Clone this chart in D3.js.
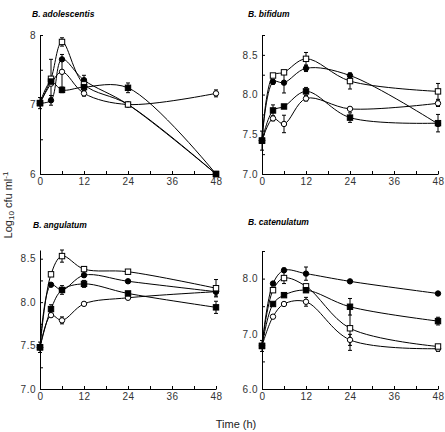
<!DOCTYPE html>
<html>
<head>
<meta charset="utf-8">
<script src="https://cdn.jsdelivr.net/npm/d3@7"></script>
<style>
  html, body { margin: 0; padding: 0; background: #fff; }
  svg { display: block; font-family: "Liberation Sans", Arial, sans-serif; }
</style>
</head>
<body>
<svg id="chart" width="445" height="432"></svg>
<script>
// ---------- DATA ----------
const times = [0, 3, 6, 12, 24, 48];
const markerTypes = ["openCircle", "filledCircle", "openSquare", "filledSquare"];
const panelTitles = ["B. adolescentis", "B. bifidum", "B. angulatum", "B. catenulatum"];
const xTickValues = [0, 6, 12, 18, 24, 30, 36, 42, 48];
const xTickLabels = [0, 12, 24, 36, 48];

// series order follows markerTypes
const adolescentisValues = [
  [7.02, 7.30, 7.47, 7.16, 7.00, 7.16],
  [7.02, 7.06, 7.65, 7.35, 7.00, 6.00],
  [7.02, 7.37, 7.90, 7.29, 7.00, 6.00],
  [7.02, 7.33, 7.21, 7.25, 7.24, 6.00]
];
const adolescentisErrors = [
  [0.08, 0, 0.25, 0.04, 0, 0.05],
  [0, 0.07, 0, 0.07, 0, 0],
  [0, 0.28, 0.06, 0, 0, 0],
  [0, 0, 0.04, 0, 0.07, 0]
];
const bifidumValues = [
  [7.42, 7.70, 7.63, 7.95, 7.82, 7.89],
  [7.42, 8.16, 8.15, 8.33, 8.24, 7.63],
  [7.42, 8.24, 8.28, 8.45, 8.17, 8.04],
  [7.42, 7.80, 7.85, 8.04, 7.71, 7.64]
];
const bifidumErrors = [
  [0.12, 0.03, 0.11, 0.03, 0, 0.04],
  [0, 0.03, 0.13, 0.04, 0.03, 0],
  [0, 0, 0, 0.08, 0.10, 0.10],
  [0, 0.07, 0, 0.05, 0.06, 0.11]
];
const angulatumValues = [
  [7.48, 7.85, 7.79, 7.98, 8.05, 8.12],
  [7.48, 8.20, 8.14, 8.31, 8.24, 8.12],
  [7.48, 8.32, 8.53, 8.38, 8.35, 8.16],
  [7.48, 7.92, 8.14, 8.21, 8.10, 7.94]
];
const angulatumErrors = [
  [0.06, 0, 0.04, 0, 0, 0],
  [0, 0, 0.05, 0, 0, 0.05],
  [0, 0, 0.07, 0.03, 0, 0.10],
  [0, 0.05, 0, 0.04, 0, 0.07]
];
const catenulatumValues = [
  [6.78, 7.31, 7.54, 7.58, 6.89, 6.73],
  [6.78, 7.91, 8.15, 8.09, 7.95, 7.73],
  [6.78, 7.79, 8.01, 7.86, 7.10, 6.77],
  [6.78, 7.54, 7.70, 7.79, 7.49, 7.23]
];
const catenulatumErrors = [
  [0.10, 0, 0, 0.08, 0.10, 0.05],
  [0, 0, 0.04, 0.12, 0, 0],
  [0, 0, 0.10, 0, 0.40, 0],
  [0, 0, 0, 0, 0.15, 0.07]
];

const yDomains = [[6, 8], [7, 8.75], [7, 8.6], [6, 8.5]];
const yTickValues = [
  [6, 6.5, 7, 7.5, 8],
  [7, 7.25, 7.5, 7.75, 8, 8.25, 8.5, 8.75],
  [7, 7.25, 7.5, 7.75, 8, 8.25, 8.5],
  [6, 6.5, 7, 7.5, 8, 8.5]
];
const yTickLabels = [
  [6, 7, 8],
  [7, 7.5, 8, 8.5],
  [7, 7.5, 8, 8.5],
  [6, 7, 8]
];
const yLabelFormats = ["d", ".1f", ".1f", ".1f"];

// ---------- LAYOUT ----------
const allValues = [adolescentisValues, bifidumValues, angulatumValues, catenulatumValues];
const allErrors = [adolescentisErrors, bifidumErrors, angulatumErrors, catenulatumErrors];
const layout = [
  { x0: 40, x1: 216, yTop: 35, yBot: 174, titleX: 32, titleY: 16.5 },
  { x0: 262, x1: 438, yTop: 35, yBot: 174, titleX: 248, titleY: 16.5 },
  { x0: 40, x1: 216, yTop: 250, yBot: 389, titleX: 33, titleY: 228 },
  { x0: 262, x1: 438, yTop: 251, yBot: 389, titleX: 248, titleY: 225 }
];

const svg = d3.select("#chart");

layout.forEach((L, p) => {
  const g = svg.append("g");
  const x = d3.scaleLinear().domain([0, 48]).range([L.x0, L.x1]);
  const y = d3.scaleLinear().domain(yDomains[p]).range([L.yBot, L.yTop]);

  // axes
  const fmt = d3.format(yLabelFormats[p]);
  const yAxis = d3.axisLeft(y)
    .tickValues(yTickValues[p])
    .tickSizeInner(-3).tickSizeOuter(0).tickPadding(4)
    .tickFormat(v => yTickLabels[p].some(l => Math.abs(l - v) < 1e-9) ? fmt(v) : "");
  const gy = g.append("g").attr("transform", `translate(${L.x0},0)`).call(yAxis);

  const xAxis = d3.axisBottom(x)
    .tickValues(xTickValues)
    .tickSizeInner(-3).tickSizeOuter(0).tickPadding(4)
    .tickFormat(v => xTickLabels.includes(v) ? String(v) : "");
  const gx = g.append("g").attr("transform", `translate(0,${L.yBot})`).call(xAxis);

  [gx, gy].forEach(a => {
    a.selectAll("path.domain").attr("stroke", "#000").attr("stroke-width", 1);
    a.selectAll(".tick line").attr("stroke", "#000");
    a.selectAll(".tick text").attr("font-size", 10).attr("fill", "#333")
      .attr("font-family", "'Liberation Sans', Arial, sans-serif").attr("letter-spacing", "0.5px");
  });

  // title
  g.append("text").attr("x", L.titleX).attr("y", L.titleY)
    .attr("font-size", 8.5).attr("font-weight", "bold").attr("font-style", "italic")
    .text(panelTitles[p]);

  const line = d3.line()
    .x((d, i) => x(times[i]))
    .y(d => y(d))
    .curve(d3.curveCatmullRom.alpha(0.5));

  const vals = allValues[p];
  const errs = allErrors[p];

  // lines
  vals.forEach(series => {
    g.append("path").attr("d", line(series))
      .attr("fill", "none").attr("stroke", "#000").attr("stroke-width", 1);
  });

  // error bars
  vals.forEach((series, s) => {
    series.forEach((v, i) => {
      const e = errs[s][i];
      if (!e) return;
      const cx = x(times[i]);
      const yl = y(v - e), yh = y(v + e);
      g.append("line").attr("x1", cx).attr("x2", cx).attr("y1", yl).attr("y2", yh)
        .attr("stroke", "#000").attr("stroke-width", 1);
      [yl, yh].forEach(yy => g.append("line")
        .attr("x1", cx - 2).attr("x2", cx + 2).attr("y1", yy).attr("y2", yy)
        .attr("stroke", "#000").attr("stroke-width", 1));
    });
  });

  // markers
  vals.forEach((series, s) => {
    const type = markerTypes[s];
    series.forEach((v, i) => {
      const cx = x(times[i]), cy = y(v);
      const filled = type.startsWith("filled");
      if (type.endsWith("Circle")) {
        g.append("circle").attr("cx", cx).attr("cy", cy).attr("r", 2.7)
          .attr("fill", filled ? "#000" : "#fff").attr("stroke", "#000").attr("stroke-width", 1);
      } else {
        g.append("rect").attr("x", cx - 2.7).attr("y", cy - 2.7)
          .attr("width", 5.4).attr("height", 5.4)
          .attr("fill", filled ? "#000" : "#fff").attr("stroke", "#000").attr("stroke-width", 1);
      }
    });
  });
});

// axis titles
const yLab = svg.append("text")
  .attr("transform", "translate(12,205) rotate(-90)")
  .attr("text-anchor", "middle").attr("font-size", 11).attr("fill", "#222");
yLab.append("tspan").text("Log");
yLab.append("tspan").attr("font-size", 8).attr("dy", 2).text("10");
yLab.append("tspan").attr("dy", -2).text(" cfu ml");
yLab.append("tspan").attr("font-size", 8).attr("dy", -4).text("-1");

svg.append("text").attr("x", 236).attr("y", 428)
  .attr("text-anchor", "middle").attr("font-size", 11).attr("fill", "#222")
  .text("Time (h)");
</script>
</body>
</html>
